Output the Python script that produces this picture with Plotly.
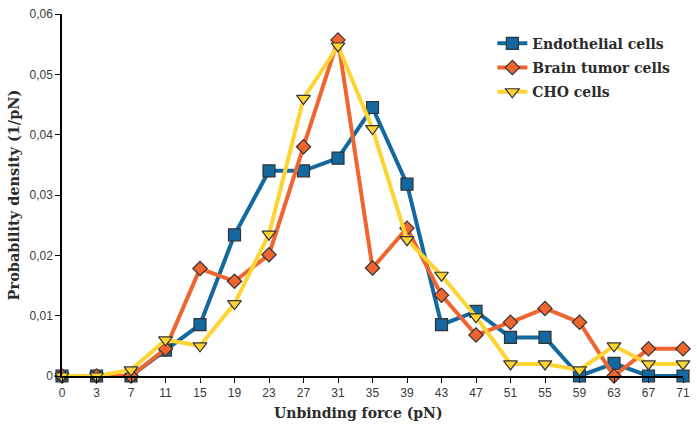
import plotly.graph_objects as go

forces = ["0", "3", "7", "11", "15", "19", "23", "27", "31", "35", "39", "43", "47", "51", "55", "59", "63", "67", "71"]
endothelial = [0, 0, 0, 0.0043, 0.0085, 0.0234, 0.0340, 0.0340, 0.0361, 0.0445, 0.0318, 0.0085, 0.0107, 0.0064, 0.0064, 0, 0.0021, 0, 0]
brain_tumor = [0, 0, 0, 0.0045, 0.0178, 0.0157, 0.0201, 0.0380, 0.0557, 0.0179, 0.0245, 0.0134, 0.0068, 0.0089, 0.0112, 0.0089, 0, 0.0045, 0.0045]
cho = [0, 0, 0.0010, 0.0060, 0.0050, 0.0120, 0.0235, 0.0460, 0.0547, 0.0410, 0.0226, 0.0167, 0.0098, 0.0020, 0.0020, 0.0010, 0.0050, 0.0020, 0.0020]
y_ticks = [0, 0.01, 0.02, 0.03, 0.04, 0.05, 0.06]
y_ticktext = ["0", "0,01", "0,02", "0,03", "0,04", "0,05", "0,06"]

series = [
    ("Endothelial cells", endothelial, "#12689f", "square", 12),
    ("Brain tumor cells", brain_tumor, "#ef6530", "diamond", 11),
    ("CHO cells", cho, "#fdd432", "triangle-down", 12),
]

fig = go.Figure()
for name, vals, color, sym, size in series:
    fig.add_trace(go.Scatter(
        x=forces, y=vals, name="<b>" + name + "</b>", mode="lines+markers",
        legendgroup=name,
        line=dict(color=color, width=4),
        marker=dict(symbol=sym, size=size, color=color, line=dict(color="#333333", width=1.2)),
        cliponaxis=False,
    ))

serif = "DejaVu Serif"
fig.update_layout(
    width=697, height=427,
    margin=dict(l=62, r=7, t=12, b=51),
    plot_bgcolor="white", paper_bgcolor="white",
    showlegend=True,
    legend=dict(x=0.693, y=0.962, xanchor="left", yanchor="top",
                font=dict(family=serif, size=14, color="#2b2b2b"),
                bgcolor="rgba(0,0,0,0)", tracegroupgap=3),
    xaxis=dict(
        type="category", range=[0, 18],
        showline=True, linecolor="black", linewidth=1.5,
        ticks="outside", ticklen=5, tickcolor="black",
        tickfont=dict(family="Liberation Sans", size=12, color="#3a3a3a"),
        showgrid=False, zeroline=False,
    ),
    yaxis=dict(
        range=[0, 0.06], tickvals=y_ticks, ticktext=y_ticktext,
        showline=True, linecolor="black", linewidth=1.5,
        ticks="outside", ticklen=5, tickcolor="black",
        tickfont=dict(family="Liberation Sans", size=12, color="#3a3a3a"),
        showgrid=False, zeroline=False,
        title=dict(text="<b>Probability density (1/pN)</b>", font=dict(family=serif, size=14.5, color="#2b2b2b"), standoff=6),
    ),
    annotations=[dict(
        text="<b>Unbinding force (pN)</b>", xref="paper", yref="paper",
        x=0.477, y=0, yshift=-37, xanchor="center", yanchor="middle", showarrow=False,
        font=dict(family=serif, size=14, color="#2b2b2b"),
    )],
)

fig.write_html("out.html")
